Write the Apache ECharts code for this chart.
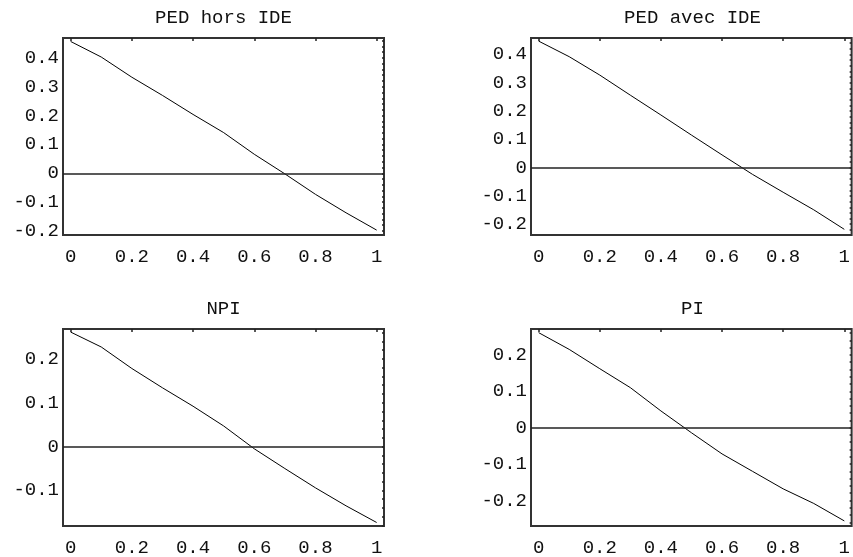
<!DOCTYPE html>
<html>
<head>
<meta charset="utf-8">
<script src="https://cdn.jsdelivr.net/npm/echarts@6/dist/echarts.min.js"></script>
<style>
html,body{margin:0;padding:0;background:#fff}
#c{width:853px;height:557px}
</style>
</head>
<body>
<div id="c"></div>
<script>
// ---- data ----
const titles = ['PED hors IDE', 'PED avec IDE', 'NPI', 'PI'];
const xValues = [0, 0.1, 0.2, 0.3, 0.4, 0.5, 0.6, 0.7, 0.8, 0.9, 1];
const pedHors = [0.457, 0.403, 0.333, 0.270, 0.204, 0.141, 0.066, -0.002, -0.073, -0.137, -0.197];
const pedAvec = [0.447, 0.392, 0.327, 0.256, 0.186, 0.115, 0.045, -0.024, -0.087, -0.149, -0.218];
const npi     = [0.261, 0.227, 0.178, 0.134, 0.092, 0.047, -0.005, -0.050, -0.094, -0.135, -0.173];
const pi      = [0.261, 0.215, 0.162, 0.110, 0.046, -0.014, -0.072, -0.120, -0.168, -0.208, -0.256];
const xTickLabels = [0, 0.2, 0.4, 0.6, 0.8, 1];
const yTickLabels = [
  [-0.2, -0.1, 0, 0.1, 0.2, 0.3, 0.4],
  [-0.2, -0.1, 0, 0.1, 0.2, 0.3, 0.4],
  [-0.1, 0, 0.1, 0.2],
  [-0.2, -0.1, 0, 0.1, 0.2]
];
const xRange = [-0.025, 1.024];
const yRanges = [[-0.214, 0.469], [-0.238, 0.458], [-0.181, 0.268], [-0.27, 0.271]];
const seriesData = [pedHors, pedAvec, npi, pi];

// ---- layout ----
const FONT = "'Liberation Mono', 'DejaVu Sans Mono', monospace";
const grids = [
  {left: 63, top: 38, width: 321, height: 197},
  {left: 531, top: 38, width: 321, height: 197},
  {left: 63, top: 329, width: 321, height: 197},
  {left: 531, top: 329, width: 321, height: 197}
];
const titlePos = [[223.5, 18], [692.5, 18], [223.5, 308.5], [692.5, 308.5]];

function minorTicks(lo, hi) {
  const out = [];
  const start = Math.ceil(lo / 0.02 - 1e-9);
  const end = Math.floor(hi / 0.02 + 1e-9);
  for (let k = start; k <= end; k++) out.push(+(k * 0.02).toFixed(2));
  return out;
}

const option = {
  animation: false,
  backgroundColor: '#fff',
  title: titles.map((t, i) => ({
    text: t,
    left: titlePos[i][0],
    top: titlePos[i][1],
    padding: 0,
    textAlign: 'center',
    textVerticalAlign: 'middle',
    textStyle: {fontFamily: FONT, fontSize: 19, fontWeight: 'normal', color: '#111'}
  })),
  grid: grids.map(g => Object.assign({show: true, borderColor: '#333', borderWidth: 2, backgroundColor: 'transparent'}, g)),
  xAxis: [],
  yAxis: [],
  series: []
};

for (let i = 0; i < 4; i++) {
  option.xAxis.push({
    type: 'value', gridIndex: i, position: 'bottom', min: xRange[0], max: xRange[1],
    axisLine: {show: false, onZero: false}, axisTick: {show: false}, splitLine: {show: false},
    axisLabel: {customValues: xTickLabels, margin: 12, fontFamily: FONT, fontSize: 19, color: '#111'}
  });
  option.xAxis.push({
    type: 'value', gridIndex: i, position: 'top', min: xRange[0], max: xRange[1],
    axisLine: {show: false, onZero: false}, splitLine: {show: false}, axisLabel: {show: false},
    axisTick: {show: true, inside: true, length: 3, customValues: xTickLabels, lineStyle: {color: '#222', width: 1.5}}
  });
  option.yAxis.push({
    type: 'value', gridIndex: i, position: 'left', min: yRanges[i][0], max: yRanges[i][1],
    axisLine: {show: false, onZero: false}, axisTick: {show: false}, splitLine: {show: false},
    axisLabel: {customValues: yTickLabels[i], margin: 4, fontFamily: FONT, fontSize: 19, color: '#111'}
  });
  option.yAxis.push({
    type: 'value', gridIndex: i, position: 'right', min: yRanges[i][0], max: yRanges[i][1],
    axisLine: {show: false, onZero: false}, splitLine: {show: false}, axisLabel: {show: false},
    axisTick: {show: true, inside: true, length: 2, customValues: minorTicks(yRanges[i][0], yRanges[i][1]), lineStyle: {color: '#222', width: 1.5}}
  });
  option.series.push({
    type: 'line',
    xAxisIndex: 2 * i,
    yAxisIndex: 2 * i,
    data: xValues.map((x, k) => [x, seriesData[i][k]]),
    showSymbol: false,
    symbol: 'none',
    lineStyle: {color: '#000', width: 1},
    silent: true,
    markLine: {
      silent: true,
      symbol: ['none', 'none'],
      label: {show: false},
      lineStyle: {color: '#222', width: 1.5, type: 'solid'},
      data: [{yAxis: 0}]
    }
  });
}

const chart = echarts.init(document.getElementById('c'), null, {renderer: 'canvas'});
chart.setOption(option);
</script>
</body>
</html>
